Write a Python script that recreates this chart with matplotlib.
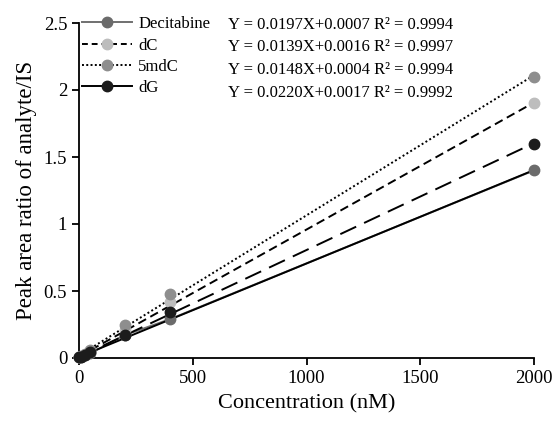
import numpy as np
import matplotlib
matplotlib.use("Agg")
import matplotlib.pyplot as plt
from matplotlib.lines import Line2D

plt.rcParams['font.family'] = ['Liberation Serif', 'DejaVu Serif']

# Data
conc = [0, 10, 25, 50, 200, 400, 2000]
series_names = ['Decitabine', 'dC', '5mdC', 'dG']
decitabine = [0.004, 0.009, 0.02, 0.035, 0.17, 0.29, 1.40]
dC = [0.005, 0.012, 0.025, 0.047, 0.21, 0.42, 1.90]
mdC5 = [0.006, 0.014, 0.03, 0.06, 0.25, 0.48, 2.10]
dG = [0.005, 0.011, 0.024, 0.042, 0.17, 0.345, 1.60]
equations = ['Y = 0.0197X+0.0007 R² = 0.9994',
             'Y = 0.0139X+0.0016 R² = 0.9997',
             'Y = 0.0148X+0.0004 R² = 0.9994',
             'Y = 0.0220X+0.0017 R² = 0.9992']
xticks = [0, 500, 1000, 1500, 2000]
yticks = [0, 0.5, 1, 1.5, 2, 2.5]
yticklabels = ['0', '0.5', '1', '1.5', '2', '2.5']

values = [decitabine, dC, mdC5, dG]
marker_colors = ['#6b6b6b', '#bdbdbd', '#8e8e8e', '#1c1c1c']
legend_line_colors = ['#707070', 'black', 'black', 'black']
legend_line_styles = ['-', (0, (3, 2)), (0, (1, 1.2)), '-']
trend_styles = ['-', (0, (4.5, 2.5)), (0, (1, 1.3)), (0, (9, 4.5))]

fig = plt.figure(figsize=(5.56, 4.24), dpi=100)
ax = fig.add_axes([79/556, 1-358/424, 455/556, 335/424])

x = np.array(conc, dtype=float)
# Decitabine connecting line (grey, underneath)
ax.plot(x, decitabine, color=legend_line_colors[0], linestyle='-', linewidth=1.4,
        clip_on=False, zorder=1)

# Linear trendlines
xx = np.array([0.0, 2000.0])
for vals, ts in zip(values, trend_styles):
    k, b = np.polyfit(x, np.array(vals), 1)
    ax.plot(xx, k*xx + b, color='black', linestyle=ts, linewidth=1.4, zorder=2)

# Markers on top
for vals, mc in zip(values, marker_colors):
    ax.plot(x, vals, linestyle='none', marker='o', markersize=7.5,
            markerfacecolor=mc, markeredgecolor=mc, clip_on=False, zorder=4)

ax.set_xlim(0, 2000)
ax.set_ylim(0, 2.5)
ax.set_xticks(xticks)
ax.set_yticks(yticks)
ax.set_yticklabels(yticklabels)
for s in ['top', 'right']:
    ax.spines[s].set_visible(False)
for s in ['left', 'bottom']:
    ax.spines[s].set_linewidth(1.3)
ax.tick_params(direction='out', length=5, width=1.3, labelsize=13.5, colors='black')
ax.set_xlabel('Concentration (nM)', fontsize=16, labelpad=5)
ax.set_ylabel('Peak area ratio of analyte/IS', fontsize=16.5, labelpad=5)

handles = [Line2D([0], [0], color=lc, linestyle=ls, linewidth=1.4, marker='o',
                  markersize=7.5, markerfacecolor=mc, markeredgecolor=mc)
           for mc, lc, ls in zip(marker_colors, legend_line_colors, legend_line_styles)]
ax.legend(handles, series_names, loc='upper left', bbox_to_anchor=(0.0, 1.03),
          frameon=False, fontsize=12, handlelength=3.0, handletextpad=0.35,
          labelspacing=0.32, borderpad=0, borderaxespad=0.2)

eq_y = [0.994, 0.928, 0.860, 0.791]
for eq, yy in zip(equations, eq_y):
    ax.text(0.327, yy, eq, transform=ax.transAxes, fontsize=12, va='center', ha='left')

fig.savefig('out.png', dpi=100)
